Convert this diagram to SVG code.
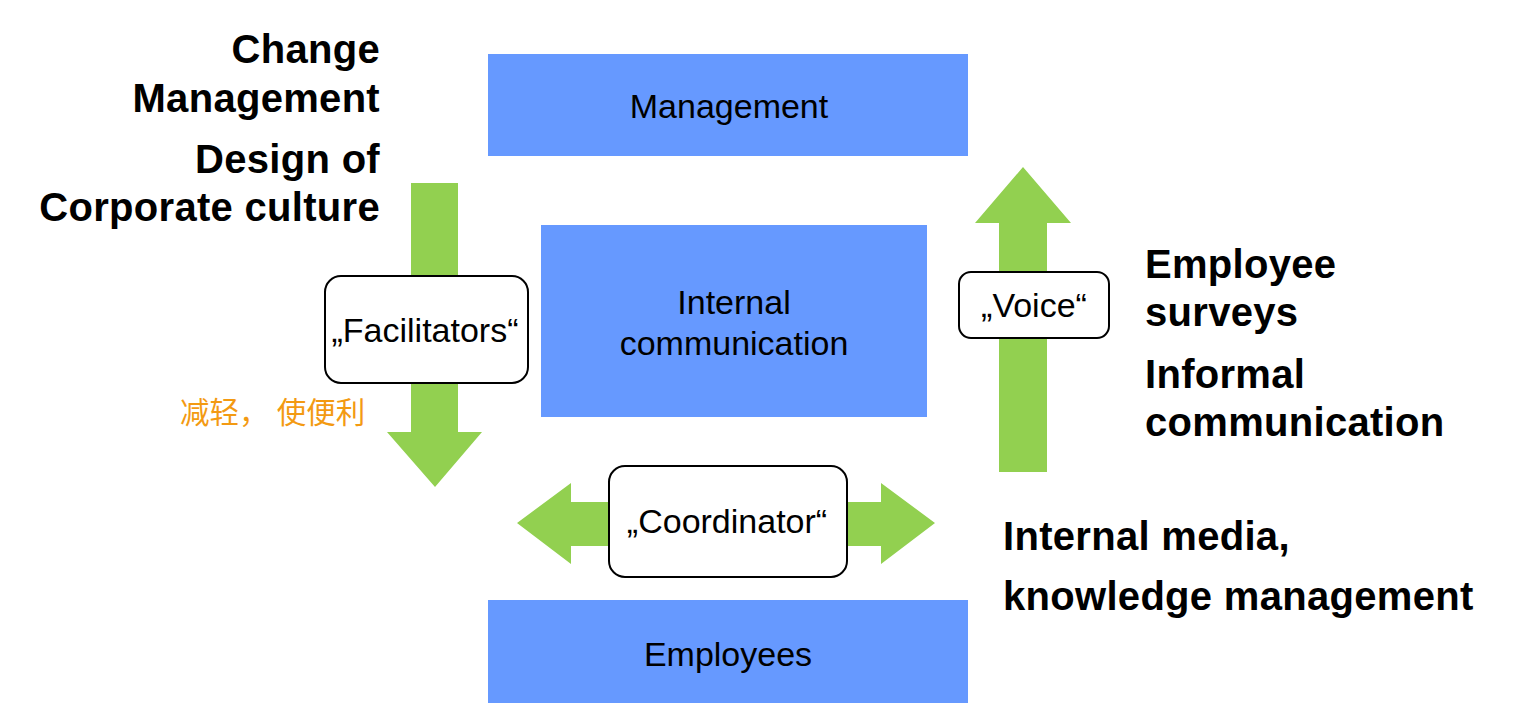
<svg xmlns="http://www.w3.org/2000/svg" width="1525" height="717" viewBox="0 0 1525 717">
<style>
.blk{fill:#6699FF}
.arr{fill:#92D050}
.lbl{fill:#FFFFFF;stroke:#000000;stroke-width:2}
.t{font-family:"Liberation Sans",Arial,sans-serif;font-size:34px;fill:#000000;text-anchor:middle}
.b{font-family:"Liberation Sans",Arial,sans-serif;font-size:40px;font-weight:bold;fill:#000000;letter-spacing:0.3px}
.cn{font-family:"Liberation Sans","Noto Sans CJK SC",sans-serif;font-size:29.5px;fill:#F39A12}
</style>
<rect width="1525" height="717" fill="#FFFFFF"/>
<g id="connectors">
<polygon class="arr" points="411,183 458,183 458,432 482,432 435,487 387,432 411,432"/>
<polygon class="arr" points="999,472 1047,472 1047,223 1071,223 1023,167 975,223 999,223"/>
<polygon class="arr" points="517,523 571,483 571,502 881,502 881,483 935,523 881,564 881,546 571,546 571,564"/>
</g>
<g id="management">
<rect class="blk" x="488" y="54" width="480" height="102"/>
<text class="t" x="729" y="118">Management</text>
</g>
<g id="internal-communication">
<rect class="blk" x="541" y="225" width="386" height="192"/>
<text class="t" x="734" y="314">Internal</text>
<text class="t" x="734" y="355">communication</text>
</g>
<g id="employees">
<rect class="blk" x="488" y="600" width="480" height="103"/>
<text class="t" x="728" y="666">Employees</text>
</g>
<g id="facilitators">
<rect class="lbl" x="325" y="276" width="203" height="107" rx="16"/>
<text class="t" x="425" y="342">„Facilitators“</text>
</g>
<g id="voice">
<rect class="lbl" x="959" y="272" width="150" height="66" rx="12"/>
<text class="t" x="1034" y="317">„Voice“</text>
</g>
<g id="coordinator">
<rect class="lbl" x="609" y="466" width="238" height="111" rx="16"/>
<text class="t" x="727" y="533">„Coordinator“</text>
</g>
<g id="left-text">
<text class="b" x="380" y="63" text-anchor="end">Change</text>
<text class="b" x="380" y="112" text-anchor="end">Management</text>
<text class="b" x="380" y="173" text-anchor="end">Design of</text>
<text class="b" x="380" y="221" text-anchor="end">Corporate culture</text>
</g>
<g id="right-text">
<text class="b" x="1145" y="278">Employee</text>
<text class="b" x="1145" y="326">surveys</text>
<text class="b" x="1145" y="388">Informal</text>
<text class="b" x="1145" y="436">communication</text>
<text class="b" x="1003" y="550">Internal media,</text>
<text class="b" x="1003" y="610">knowledge management</text>
</g>
<g id="chinese-note">
<text class="cn" x="180" y="423">减轻， 使便利</text>
</g>
</svg>
